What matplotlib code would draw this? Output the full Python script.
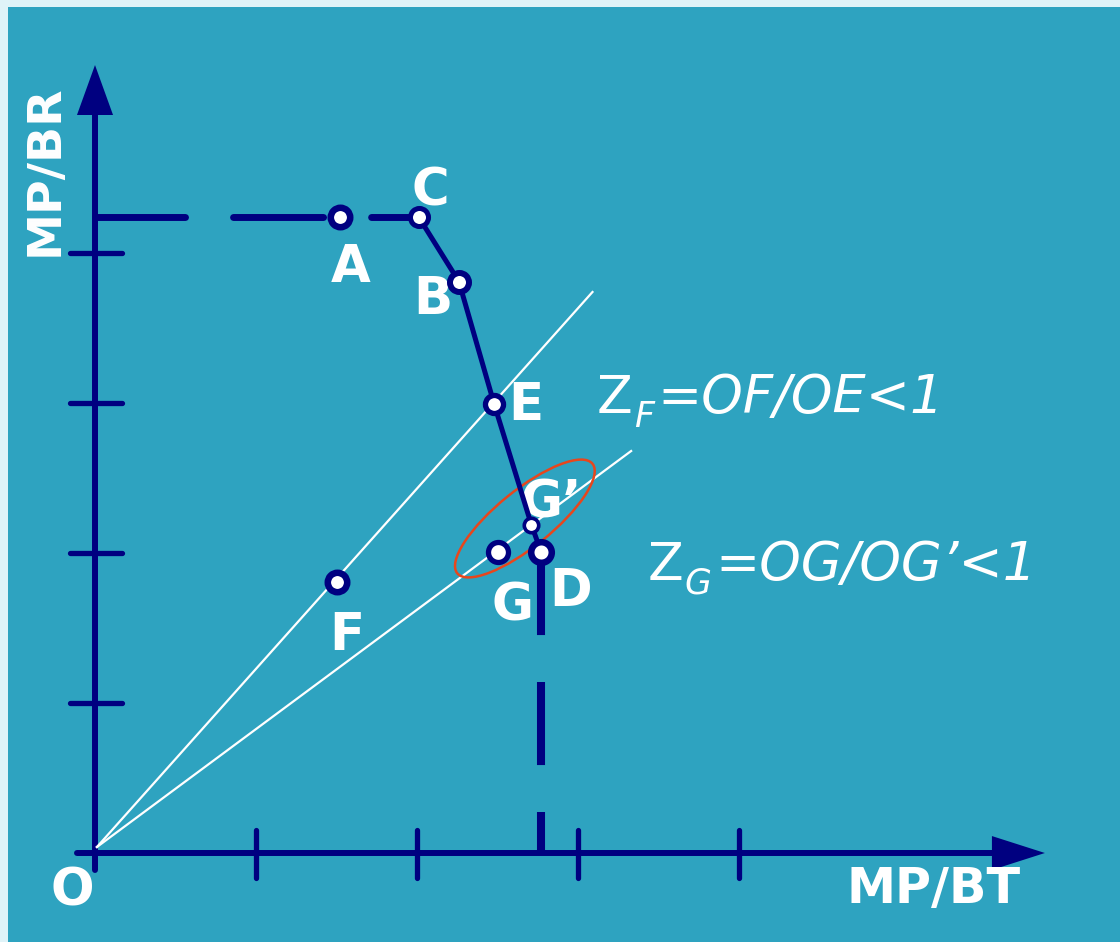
import numpy as np
import matplotlib
matplotlib.use("Agg")
import matplotlib.pyplot as plt
from matplotlib.patches import Ellipse, Rectangle
import matplotlib.transforms as mtransforms

plt.rcParams['font.family'] = ['DejaVu Sans']
plt.rcParams['lines.scale_dashes'] = False

# ---------------- data ----------------
point_names = ["A", "C", "B", "E", "G’", "D", "G", "F"]
point_x = [1.52, 2.01, 2.26, 2.48, 2.71, 2.77, 2.50, 1.50]
point_y = [4.24, 4.24, 3.81, 2.99, 2.19, 2.01, 2.01, 1.81]
frontier_names = ["C", "B", "E", "G’", "D"]
ray_end_x = [3.09, 3.33]
ray_end_y = [3.74, 2.68]
tick_values = [1, 2, 3, 4]
x_label = "MP/BT"
y_label = "MP/BR"

# ---------------- style ----------------
NAVY = "#000080"
TEAL = "#2ea3c0"
FRAME = "#dff3f8"
RED = "#e8461c"
W, H = 1120, 942
OX, OY = 95, 853          # origin in pixels
SX, SY = 161.0, 150.0     # pixels per unit

fig = plt.figure(figsize=(W / 100, H / 100), dpi=100)
fig.patch.set_facecolor(FRAME)
fig.add_artist(Rectangle((8 / W, 0), 1 - 8 / W, (H - 7) / H,
                         transform=fig.transFigure, facecolor=TEAL,
                         edgecolor='none', zorder=-5))
ax = fig.add_axes([0, 0, 1, 1])
ax.set_facecolor('none')
ax.axis('off')
ax.set_xlim(-OX / SX, (W - OX) / SX)
ax.set_ylim(-(H - OY) / SY, OY / SY)

pts = dict(zip(point_names, zip(point_x, point_y)))

# axes with arrows
ax.plot([-18 / SX, 5.58], [0, 0], color=NAVY, lw=4.3, solid_capstyle='round', zorder=3)
ax.fill([5.571, 5.90, 5.571], [0.113, 0, -0.113], color=NAVY, lw=0, zorder=3)
ax.plot([0, 0], [-17 / SY, 4.93], color=NAVY, lw=4.3, solid_capstyle='round', zorder=3)
ax.fill([-0.112, 0, 0.112], [4.92, 5.253, 4.92], color=NAVY, lw=0, zorder=3)
for v in tick_values:
    ax.plot([v, v], [-25 / SY, 23 / SY], color=NAVY, lw=3.8, solid_capstyle='round', zorder=3)
    ax.plot([-25 / SX, 27 / SX], [v, v], color=NAVY, lw=3.8, solid_capstyle='round', zorder=3)

# rays from origin
for ex, ey in zip(ray_end_x, ray_end_y):
    ax.plot([0.012, ex], [0.04, ey], color='white', lw=1.6, zorder=4)

# ellipse around G, G'
cx = (pts["G"][0] + pts["G’"][0]) / 2 + 0.065
cy = (pts["G"][1] + pts["G’"][1]) / 2 + 0.13
trans = fig.dpi_scale_trans + mtransforms.ScaledTranslation(cx, cy, ax.transData)
ax.add_patch(Ellipse((0, 0), 1.74, 0.56, angle=39, transform=trans,
                     facecolor='none', edgecolor=RED, lw=1.8, zorder=4))

# dashed horizontal segment (axis -> C) and dashed vertical (D -> axis)
ax.plot([0, pts["C"][0]], [pts["C"][1], pts["C"][1]], color=NAVY, lw=5.0,
        dashes=(64.8, 34.6), dash_capstyle='round', zorder=5)
ax.plot([pts["D"][0], pts["D"][0]], [pts["D"][1], 0], color=NAVY, lw=5.8,
        dashes=(59.8, 33.8), dash_capstyle='butt', zorder=5)

# frontier C-B-E-G'-D
ax.plot([pts[n][0] for n in frontier_names], [pts[n][1] for n in frontier_names],
        color=NAVY, lw=3.6, solid_joinstyle='round', solid_capstyle='round', zorder=5)

# markers
marker_size = {"A": 14, "C": 13, "B": 13.7, "E": 13, "G’": 10.4, "D": 14.8, "G": 14.4, "F": 14}
marker_edge = {"A": 4.7, "C": 3.6, "B": 4.3, "E": 3.8, "G’": 2.6, "D": 4.7, "G": 3.8, "F": 4.7}
for n in point_names:
    ax.plot(pts[n][0], pts[n][1], 'o', ms=marker_size[n], mew=marker_edge[n],
            mec=NAVY, mfc='white', zorder=6)

# point labels (offsets in pixels)
label_offset = {"A": (11, -65), "C": (12, 12), "B": (-26, -32), "E": (32, -15),
                "G’": (20, 7), "G": (15, -69), "D": (30, -54), "F": (10, -68)}
for n in point_names:
    ax.annotate(n, xy=pts[n], xytext=label_offset[n], textcoords='offset pixels',
                ha='center', va='baseline', fontsize=37, fontweight='bold',
                color='white', zorder=4.5)
ax.annotate("O", xy=(0, 0), xytext=(-23, -52), textcoords='offset pixels',
            ha='center', va='baseline', fontsize=37, fontweight='bold',
            color='white', zorder=4.5)

# axis labels
ax.text((45 - OX) / SX, (OY - 170) / SY, y_label, rotation=90, ha='center', va='center',
        fontsize=34, fontweight='bold', color='white')
ax.text((934 - OX) / SX, (OY - 889) / SY, x_label, ha='center', va='center',
        fontsize=35.5, fontweight='bold', color='white')


def formula(x_px, base_px, sub, rest):
    t1 = ax.text((x_px - OX) / SX, (OY - base_px) / SY, "Z", ha='left', va='baseline',
                 fontsize=37.5, color='white')
    t2 = ax.annotate(sub, xy=(1, 0), xycoords=t1, xytext=(1, -10),
                     textcoords='offset pixels', ha='left', va='bottom',
                     fontsize=25, style='italic', color='white')
    ax.annotate(rest, xy=(1, 0), xycoords=(t2, t1), xytext=(4, 0),
                textcoords='offset pixels', ha='left', va='bottom',
                fontsize=38, style='italic', color='white')


formula(597, 413, "F", "=OF/OE<1")
formula(648, 580, "G", "=OG/OG’<1")

fig.savefig("out.png", dpi=100, facecolor=fig.get_facecolor())
